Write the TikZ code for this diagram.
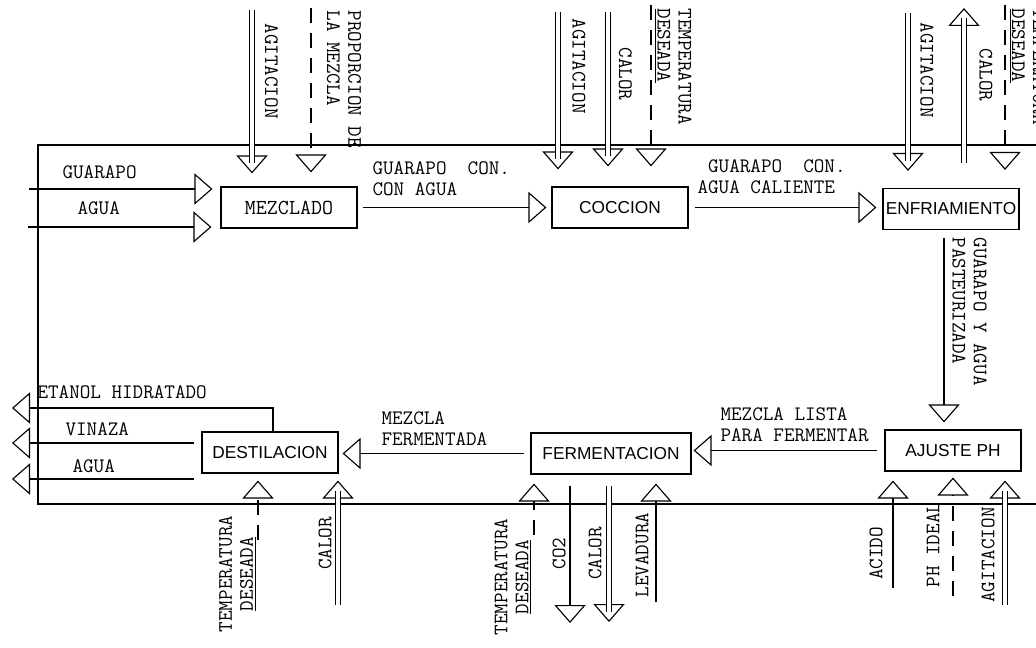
\documentclass[tikz,border=0pt]{standalone}
\usepackage{fontspec}
\newfontfamily\lblfont{Latin Modern Mono}
\newfontfamily\boxfont{Liberation Sans}
\usetikzlibrary{arrows.meta}
\tikzset{
  proc/.style={draw, minimum width=3.4cm, minimum height=1.025cm, inner sep=0pt,
    font=\boxfont\fontsize{12.3}{14}\selectfont},
  lbl/.style={inner sep=0pt, align=left, font=\lblfont\fontsize{14.6}{15}\selectfont},
  flow/.style={-{Triangle[open,length=4.5mm,width=7.8mm]}},
  dashln/.style={dash pattern=on 0.375cm off 0.25cm},
  dblin/.style={flow, shorten >=#1,
    postaction={draw, -, double, double distance=2.4pt, shorten >=#1+2.5mm}},
  dblout/.style={flow, shorten <=#1,
    postaction={draw, -, double, double distance=2.4pt, shorten <=#1, shorten >=2.5mm}},
}
\begin{document}
\begin{tikzpicture}[x=0.025cm, y=-0.025cm, line width=0.8pt]
  \useasboundingbox (0,0) rectangle (1036,648);
  % Frame
  \draw (1036,145) -- (38,145) -- (38,504) -- (1036,504);

  % Stages
  \node[proc, font=\lblfont\fontsize{15.2}{15}\selectfont] (mezclado) at (289,207.5) {MEZCLADO};
  \node[proc] (coccion) at (620,207.5) {COCCION};
  \node[proc] (enfriamiento) at (951,209) {ENFRIAMIENTO};
  \node[proc] (ajuste) at (953,450.5) {AJUSTE PH};
  \node[proc, minimum width=4cm] (fermentacion) at (611,453.5) {FERMENTACION};
  \node[proc] (destilacion) at (270,452.5) {DESTILACION};

  % Main line
  \draw[flow, shorten <=0.125cm, shorten >=0.125cm] (mezclado.east) -- (mezclado.east -| coccion.west);
  \draw[flow, shorten <=0.15cm, shorten >=0.15cm] (coccion.east) -- (coccion.east -| enfriamiento.west);
  \draw[flow, shorten <=0.2cm, shorten >=0.175cm] ([xshift=-0.175cm]enfriamiento.south) -- ([xshift=-0.175cm]enfriamiento.south |- ajuste.north);
  \draw[flow, shorten <=0.175cm, shorten >=0.05cm] (ajuste.west) -- (ajuste.west -| fermentacion.east);
  \draw[flow, shorten <=0.15cm, shorten >=0.1cm] (fermentacion.west) -- (fermentacion.west -| destilacion.east);

  % Feed
  \coordinate (guarapo) at (29,189);
  \coordinate (agua) at (28,227);
  \draw[flow, shorten >=0.2cm] (guarapo) -- (guarapo -| mezclado.west);
  \draw[flow, shorten >=0.225cm] (agua) -- (agua -| mezclado.west);

  % Streams from above
  \coordinate (agitA) at (252,10);
  \coordinate (propA) at (311,8);
  \coordinate (agitB) at (558,12);
  \coordinate (calorB) at (608,12);
  \coordinate (tempB) at (651,5);
  \coordinate (agitC) at (908,13);
  \coordinate (calorC) at (964,8);
  \coordinate (tempC) at (1005,5);
  \draw[dblin=0.325cm] (agitA) -- (agitA |- mezclado.north);
  \draw[flow, dashln, shorten >=0.35cm] (propA) -- (propA |- mezclado.north);
  \draw[dblin=0.425cm] (agitB) -- (agitB |- coccion.north);
  \draw[dblin=0.5cm] (calorB) -- (calorB |- coccion.north);
  \draw[flow, dashln, shorten >=0.5cm] (tempB) -- (tempB |- coccion.north);
  \draw[dblin=0.425cm] (agitC) -- (agitC |- enfriamiento.north);
  \draw[dblout=0.625cm] (calorC |- enfriamiento.north) -- (calorC);
  \draw[flow, dashln, shorten >=0.45cm] (tempC) -- (tempC |- enfriamiento.north);

  % Streams from below
  \coordinate (tempD) at (258,540);
  \coordinate (calorD) at (338,605);
  \coordinate (tempE) at (534,535);
  \coordinate (co2) at (570,623);
  \coordinate (calorE) at (609,622);
  \coordinate (levadura) at (656,602);
  \coordinate (acido) at (893,588);
  \coordinate (phideal) at (953,596);
  \coordinate (agitF) at (1005,605);
  \draw[flow, dashln, shorten >=0.175cm] (tempD) -- (tempD |- destilacion.south);
  \draw[dblin=0.175cm] (calorD) -- (calorD |- destilacion.south);
  \draw[flow, dashln, shorten >=0.225cm] (tempE) -- (tempE |- fermentacion.south);
  \draw[flow, shorten <=0.275cm] (co2 |- fermentacion.south) -- (co2);
  \draw[dblout=0.275cm] (calorE |- fermentacion.south) -- (calorE);
  \draw[flow, shorten >=0.225cm] (levadura) -- (levadura |- fermentacion.south);
  \draw[flow, shorten >=0.225cm] (acido) -- (acido |- ajuste.south);
  \draw[flow, dashln, shorten >=0.15cm] (phideal) -- (phideal |- ajuste.south);
  \draw[dblin=0.225cm] (agitF) -- (agitF |- ajuste.south);

  % Products
  \coordinate (etanol) at (12,408);
  \coordinate (vinaza) at (12,443);
  \coordinate (aguaB) at (12,479);
  \draw[flow] ([xshift=0.075cm]destilacion.north) |- (etanol);
  \draw[flow, shorten <=0.175cm] (vinaza -| destilacion.west) -- (vinaza);
  \draw[flow, shorten <=0.175cm] (aguaB -| destilacion.west) -- (aguaB);

  % Labels
  \node[lbl, anchor=west] (tGuarapo) at (62,172) {GUARAPO};
  \node[lbl, anchor=west] (tAgua) at (77,208) {AGUA};
  \node[lbl, anchor=west] (tConAgua) at (372,179) {GUARAPO\ \ CON.\\CON AGUA};
  \node[lbl, anchor=west] (tCaliente) at (697,177) {\phantom{G}GUARAPO\ \ CON.\\AGUA CALIENTE};
  \node[lbl, anchor=west] (tFermentada) at (381,429) {MEZCLA\\FERMENTADA};
  \node[lbl, anchor=west] (tLista) at (720,425) {MEZCLA LISTA\\PARA FERMENTAR};
  \node[lbl, anchor=west] (tEtanol) at (37,392) {ETANOL HIDRATADO};
  \node[lbl, anchor=west] (tVinaza) at (65,429) {VINAZA};
  \node[lbl, anchor=west] (tAguaB) at (72,466) {AGUA};

  \node[lbl, rotate=-90, anchor=west] (tAgitA) at (271.5,23) {AGITACION};
  \node[lbl, rotate=-90, anchor=west] (tProp) at (344,10) {PROPORCION DE\\LA MEZCLA};
  \node[lbl, rotate=-90, anchor=west] (tAgitB) at (579,18) {AGITACION};
  \node[lbl, rotate=-90, anchor=west] (tCalorB) at (625.5,47) {CALOR};
  \node[lbl, rotate=-90, anchor=west] (tTempB) at (673,8) {TEMPERATURA\\\underline{DESEADA}};
  \node[lbl, rotate=-90, anchor=west] (tAgitC) at (927,22) {AGITACION};
  \node[lbl, rotate=-90, anchor=west] (tCalorC) at (986,48) {CALOR};
  \node[lbl, rotate=-90, anchor=west] (tTempC) at (1027.5,8) {TEMPERATURA\\\underline{DESEADA}};
  \node[lbl, rotate=-90, anchor=west] (tPast) at (969.5,237) {GUARAPO Y AGUA\\PASTEURIZADA};

  \node[lbl, rotate=90, align=center] (tTempD) at (237.5,574) {TEMPERATURA\\\underline{DESEADA}};
  \node[lbl, rotate=90, align=center] (tTempE) at (513,577) {TEMPERATURA\\\underline{DESEADA}};
  \foreach \n/\x/\y/\t in {tCalorD/325/543.5/CALOR, tCo2/559/553.5/CO2,
      tCalorE/595/553.5/CALOR, tLevadura/642/555/LEVADURA, tAcido/876/553.5/ACIDO,
      tPh/933/545/PH IDEAL, tAgitF/988/555/AGITACION}
  {
    \node[lbl, rotate=90] (\n) at (\x,\y) {\t};
  }
\end{tikzpicture}
\end{document}
